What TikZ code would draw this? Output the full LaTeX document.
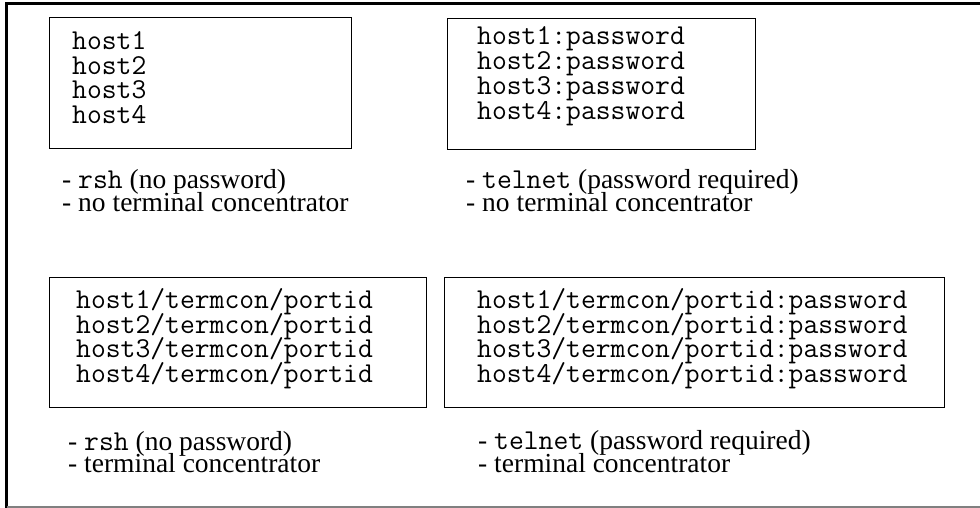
\documentclass[tikz,border=0pt]{standalone}
\usepackage{fontspec}
\setmainfont{Liberation Serif}
\begin{document}
\begin{tikzpicture}[x=1pt,y=-1pt,
  box/.style={draw=black,line width=1pt,anchor=north west,inner sep=0pt},
  code/.style={anchor=base west,inner sep=0pt,font=\ttfamily\fontsize{28.8}{29}\selectfont},
  lbl/.style={anchor=base west,inner sep=0pt,font=\fontsize{27.5}{28}\selectfont}]
\newcommand{\mytt}[1]{{\ttfamily\fontsize{28.8}{29}\selectfont #1}}
\useasboundingbox (0,0) rectangle (980,508);
% outer frame
\coordinate (ftr) at (980,3.2);
\coordinate (ftl) at (6.5,3.2);
\coordinate (fbl) at (6.5,507);
\coordinate (fbr) at (980,507);
\draw[line width=3pt,line cap=rect] (ftr) -- (ftl) -- (fbl);
\draw[line width=1.3pt,draw=black!50] (fbl) -- (fbr);
% boxes
\node[box,minimum width=302,minimum height=131] (b1) at (49,17) {};
\node[box,minimum width=308,minimum height=131] (b2) at (447,18) {};
\node[box,minimum width=377,minimum height=130] (b3) at (49,277) {};
\node[box,minimum width=500,minimum height=130] (b4) at (444,277) {};
% box 1
\node[code] (t11) at (72,50) {host1};
\node[code] (t12) at (72,74.5) {host2};
\node[code] (t13) at (72,99) {host3};
\node[code] (t14) at (72,123.5) {host4};
% box 2
\node[code] (t21) at (477,45) {host1:password};
\node[code] (t22) at (477,70) {host2:password};
\node[code] (t23) at (477,95) {host3:password};
\node[code] (t24) at (477,119.5) {host4:password};
% box 3
\node[code] (t31) at (76,308) {host1/termcon/portid};
\node[code] (t32) at (76,333) {host2/termcon/portid};
\node[code] (t33) at (76,357.5) {host3/termcon/portid};
\node[code] (t34) at (76,382) {host4/termcon/portid};
% box 4
\node[code] (t41) at (477,308) {host1/termcon/portid:password};
\node[code] (t42) at (477,333) {host2/termcon/portid:password};
\node[code] (t43) at (477,357.5) {host3/termcon/portid:password};
\node[code] (t44) at (477,382) {host4/termcon/portid:password};
% labels
\node[lbl] (l11) at (62,188) {- \mytt{rsh} (no password)};
\node[lbl] (l12) at (62,211) {- no terminal concentrator};
\node[lbl] (l21) at (466,188) {- \mytt{telnet} (password required)};
\node[lbl] (l22) at (466,211) {- no terminal concentrator};
\node[lbl] (l31) at (68,450) {- \mytt{rsh} (no password)};
\node[lbl] (l32) at (68,472) {- terminal concentrator};
\node[lbl] (l41) at (478,449) {- \mytt{telnet} (password required)};
\node[lbl] (l42) at (478,472) {- terminal concentrator};
\end{tikzpicture}
\end{document}
